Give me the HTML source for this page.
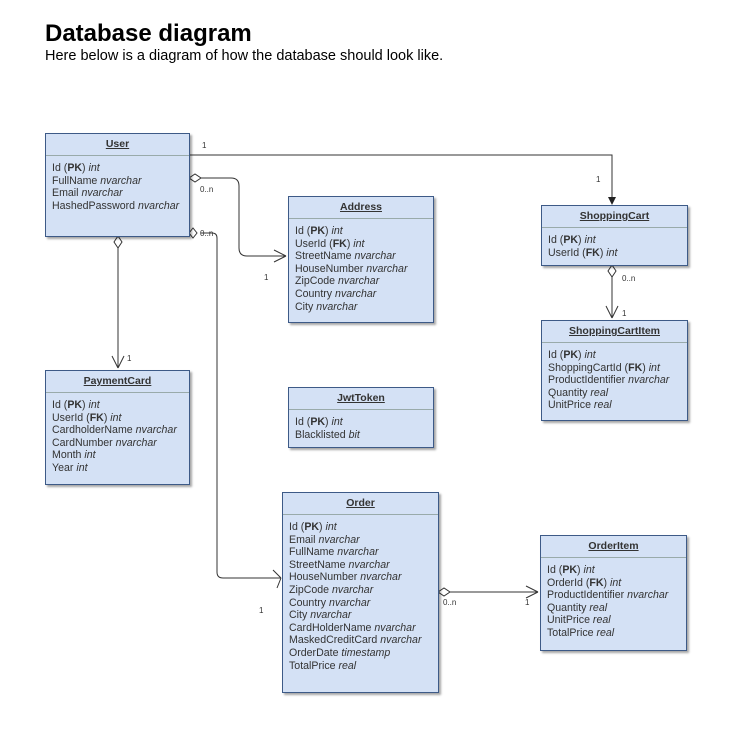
<!DOCTYPE html>
<html><head><meta charset="utf-8"><style>
body{margin:0;width:730px;height:743px;background:#fff;position:relative;font-family:"Liberation Sans",Arial,sans-serif;overflow:hidden}
h1{position:absolute;left:45px;top:20px;margin:0;font-size:24px;font-weight:bold;color:#000}
.sub{position:absolute;left:45px;top:48px;font-size:14.5px;color:#000}
.box{position:absolute;background:#d4e1f5;border:1px solid #3d5a87;box-shadow:2px 2px 2px rgba(0,0,0,.35);color:#333;font-size:10.6px;box-sizing:border-box}
.hd{height:21px;border-bottom:1px solid #9aa;text-align:center;font-weight:bold;text-decoration:underline;line-height:21px;font-size:10.5px}
.fl{padding:6px 0 0 6px;line-height:12.6px;white-space:nowrap}
.fl i{font-style:italic}
svg{position:absolute;left:0;top:0}
.lb{font-size:8px;fill:#333;font-family:"Liberation Sans",Arial,sans-serif}
</style></head><body>
<h1>Database diagram</h1>
<div class="sub">Here below is a diagram of how the database should look like.</div>
<svg width="730" height="743">
<g fill="none" stroke="#333" stroke-width="1">
<path d="M189 155H612V203"/>
<path d="M201 178H231Q239 178 239 186V248Q239 256 247 256H286"/>
<path d="M286 256l-12 -6M286 256l-12 6"/>
<path d="M118 248V368"/><path d="M118 368l-6 -12M118 368l6 -12"/>
<path d="M201 233H212Q217 233 217 238V572Q217 578 223 578H281"/>
<path d="M281 578l-8 -8M281 578l-4 10"/>
<path d="M612 277V318"/><path d="M612 318l-6 -12M612 318l6 -12"/>
<path d="M450 592H538"/><path d="M538 592l-12 -6M538 592l-12 6"/>
</g>
<path d="M612 205l-4 -8h8z" fill="#222"/>
<g fill="#fff" stroke="#333">
<path d="M189 178l6 -4l6 4l-6 4z"/>
<path d="M118 236l4 6l-4 6l-4 -6z"/>
<path d="M189 233l4 -5l4 5l-4 5z"/>
<path d="M612 265l4 6l-4 6l-4 -6z"/>
<path d="M438 592l6 -4l6 4l-6 4z"/>
</g>
<g class="lb">
<text x="202" y="148">1</text><text x="596" y="182">1</text>
<text x="200" y="192">0..n</text><text x="264" y="280">1</text>
<text x="125" y="236">0..n</text><text x="127" y="361">1</text>
<text x="200" y="236">0..n</text><text x="259" y="613">1</text>
<text x="622" y="281">0..n</text><text x="622" y="316">1</text>
<text x="443" y="605">0..n</text><text x="525" y="605">1</text>
</g>
</svg>
<div class="box" style="left:45px;top:133px;width:145px;height:104px"><div class="hd">User</div><div class="fl">Id (<b>PK</b>) <i>int</i><br>FullName <i>nvarchar</i><br>Email <i>nvarchar</i><br>HashedPassword <i>nvarchar</i></div></div>
<div class="box" style="left:288px;top:196px;width:146px;height:127px"><div class="hd">Address</div><div class="fl">Id (<b>PK</b>) <i>int</i><br>UserId (<b>FK</b>) <i>int</i><br>StreetName <i>nvarchar</i><br>HouseNumber <i>nvarchar</i><br>ZipCode <i>nvarchar</i><br>Country <i>nvarchar</i><br>City <i>nvarchar</i></div></div>
<div class="box" style="left:541px;top:205px;width:147px;height:61px"><div class="hd">ShoppingCart</div><div class="fl">Id (<b>PK</b>) <i>int</i><br>UserId (<b>FK</b>) <i>int</i></div></div>
<div class="box" style="left:541px;top:320px;width:147px;height:101px"><div class="hd">ShoppingCartItem</div><div class="fl">Id (<b>PK</b>) <i>int</i><br>ShoppingCartId (<b>FK</b>) <i>int</i><br>ProductIdentifier <i>nvarchar</i><br>Quantity <i>real</i><br>UnitPrice <i>real</i></div></div>
<div class="box" style="left:45px;top:370px;width:145px;height:115px"><div class="hd">PaymentCard</div><div class="fl">Id (<b>PK</b>) <i>int</i><br>UserId (<b>FK</b>) <i>int</i><br>CardholderName <i>nvarchar</i><br>CardNumber <i>nvarchar</i><br>Month <i>int</i><br>Year <i>int</i></div></div>
<div class="box" style="left:288px;top:387px;width:146px;height:61px"><div class="hd">JwtToken</div><div class="fl">Id (<b>PK</b>) <i>int</i><br>Blacklisted <i>bit</i></div></div>
<div class="box" style="left:282px;top:492px;width:157px;height:201px"><div class="hd">Order</div><div class="fl">Id (<b>PK</b>) <i>int</i><br>Email <i>nvarchar</i><br>FullName <i>nvarchar</i><br>StreetName <i>nvarchar</i><br>HouseNumber <i>nvarchar</i><br>ZipCode <i>nvarchar</i><br>Country <i>nvarchar</i><br>City <i>nvarchar</i><br>CardHolderName <i>nvarchar</i><br>MaskedCreditCard <i>nvarchar</i><br>OrderDate <i>timestamp</i><br>TotalPrice <i>real</i></div></div>
<div class="box" style="left:540px;top:535px;width:147px;height:116px"><div class="hd">OrderItem</div><div class="fl">Id (<b>PK</b>) <i>int</i><br>OrderId (<b>FK</b>) <i>int</i><br>ProductIdentifier <i>nvarchar</i><br>Quantity <i>real</i><br>UnitPrice <i>real</i><br>TotalPrice <i>real</i></div></div>
</body></html>
